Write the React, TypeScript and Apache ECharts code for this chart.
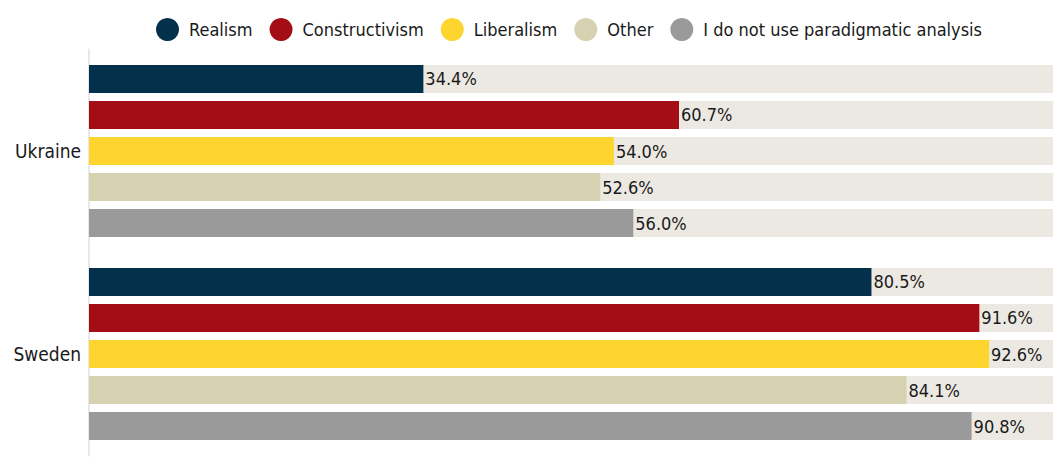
import React, { useEffect, useRef } from "react";
import * as echarts from "echarts";

const categories = ["Ukraine", "Sweden"];
const seriesNames = [
  "Realism",
  "Constructivism",
  "Liberalism",
  "Other",
  "I do not use paradigmatic analysis",
];
const realism = [34.4, 80.5];
const constructivism = [60.7, 91.6];
const liberalism = [54.0, 92.6];
const other = [52.6, 84.1];
const noParadigm = [56.0, 90.8];
const seriesValues = [realism, constructivism, liberalism, other, noParadigm];
const colors = ["#03304b", "#a50d16", "#fed42f", "#d6d1b1", "#9a9a9a"];

const FONT = "'DejaVu Sans Condensed', 'Roboto', sans-serif";

export default function App() {
  const ref = useRef<HTMLDivElement>(null);
  useEffect(() => {
    if (!ref.current) return;
    const chart = echarts.init(ref.current, undefined, { renderer: "svg" });
    chart.setOption({
      animation: false,
      textStyle: { fontFamily: FONT },
      legend: {
        left: 151,
        top: 13,
        itemWidth: 23,
        itemHeight: 23,
        itemGap: 17,
        icon: "circle",
        textStyle: { fontSize: 18, color: "#1a1a1a", fontFamily: FONT, padding: [0, 0, 0, 5] },
        data: seriesNames,
      },
      grid: { left: 89, top: 49.5, height: 406, width: 972, containLabel: false },
      xAxis: { type: "value", min: 0, max: 100, show: false },
      yAxis: {
        type: "category",
        data: categories,
        inverse: true,
        axisTick: { show: false },
        axisLine: { show: true, lineStyle: { color: "#e8e8e8", width: 2 } },
        axisLabel: { fontSize: 19, color: "#1a1a1a", margin: 8, fontFamily: FONT },
      },
      series: seriesNames.map((name, i) => ({
        name,
        type: "bar",
        data: seriesValues[i],
        barWidth: 28,
        barGap: "28.6%",
        barCategoryGap: "15%",
        itemStyle: { color: colors[i] },
        showBackground: true,
        backgroundStyle: { color: "#ece9e3" },
        label: {
          show: true,
          position: "right",
          distance: 2,
          formatter: (p: any) => p.value.toFixed(1) + "%",
          fontSize: 18,
          color: "#1a1a1a",
          fontFamily: FONT,
        },
      })),
    });
    return () => chart.dispose();
  }, []);
  return (
    <div
      style={{
        position: "fixed",
        left: 0,
        top: 0,
        width: 1053,
        height: 461,
        overflow: "hidden",
        background: "#fff",
      }}
    >
      <div ref={ref} style={{ width: 1080, height: 461 }} />
    </div>
  );
}
